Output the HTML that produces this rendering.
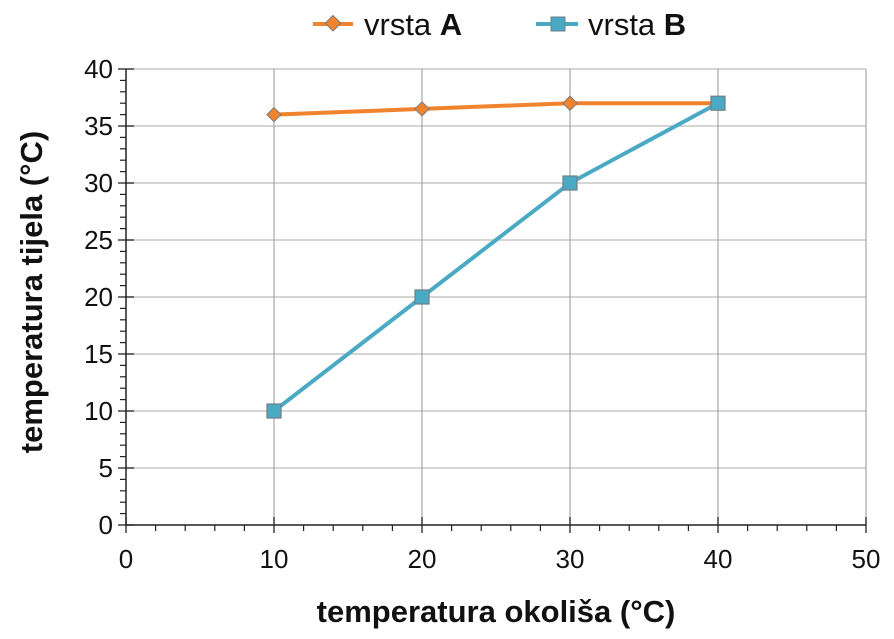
<!DOCTYPE html>
<html><head><meta charset="utf-8"><style>
body{margin:0;background:#fff;}
svg{display:block;font-family:"Liberation Sans",sans-serif;}
</style></head><body>
<svg id="c" width="894" height="639">
<g id="grid"></g>
<g id="axes"></g>
<g id="series"></g>
<g>
 <g>
  <line x1="313" y1="24" x2="353" y2="24" stroke="#f0832d" stroke-width="4"/>
  <rect x="327" y="18" width="11" height="11" transform="rotate(45 333 24)" fill="#f0832d" stroke="#7a7a7a" stroke-width="1"/>
  <text x="364" y="35" font-size="31" fill="#111">vrsta <tspan font-weight="bold">A</tspan></text>
 </g>
 <g>
  <line x1="536" y1="24" x2="578" y2="24" stroke="#4aaac4" stroke-width="4"/>
  <rect x="551" y="17" width="14" height="14" fill="#4aaac4" stroke="#6f7f86" stroke-width="1"/>
  <text x="588" y="35" font-size="31" fill="#111">vrsta <tspan font-weight="bold">B</tspan></text>
 </g>
</g>
<text x="496" y="622" text-anchor="middle" font-size="31" font-weight="bold" fill="#111">temperatura okoliša (°C)</text>
<text transform="translate(42 292) rotate(-90)" text-anchor="middle" font-size="31" font-weight="bold" fill="#111">temperatura tijela (°C)</text>
</svg>
<script>
const xCats=[10,20,30,40];
const seriesA=[36,36.5,37,37];
const seriesB=[10,20,30,37];
const xTicks=[0,10,20,30,40,50];
const yTicks=[0,5,10,15,20,25,30,35,40];
const NS="http://www.w3.org/2000/svg";
const X0=126,X1=866,Y0=525,Y1=69;
const xs=v=>X0+(v-0)/50*(X1-X0);
const ys=v=>Y0-(v-0)/40*(Y0-Y1);
function mk(tag,attrs,parent){const e=document.createElementNS(NS,tag);for(const k in attrs)e.setAttribute(k,attrs[k]);document.getElementById(parent).appendChild(e);return e;}
yTicks.forEach(v=>{if(v>0){const l=mk('line',{x1:X0,x2:X1,y1:ys(v),y2:ys(v),stroke:'#bcbcbc','stroke-width':1.2},'grid');

}
const t=mk('text',{x:X0-13,y:ys(v)+9,'text-anchor':'end','font-size':26,fill:'#111'},'axes');t.textContent=v;


mk('line',{x1:X0-8,x2:X0+8,y1:ys(v),y2:ys(v),stroke:'#222','stroke-width':1.3},'axes');});
for(let v=0;v<=40;v++){if(v%5)mk('line',{x1:X0-6,x2:X0,y1:ys(v),y2:ys(v),stroke:'#222','stroke-width':1.2},'axes');}
xTicks.forEach(v=>{if(v>0){const l=mk('line',{x1:xs(v),x2:xs(v),y1:Y0,y2:Y1,stroke:'#a8a8a8','stroke-width':1.2},'grid');

}
const t=mk('text',{x:xs(v),y:Y0+43,'text-anchor':'middle','font-size':26,fill:'#111'},'axes');t.textContent=v;


mk('line',{x1:xs(v),x2:xs(v),y1:Y0-8,y2:Y0+8,stroke:'#222','stroke-width':1.3},'axes');});
for(let v=0;v<=50;v+=2){if(v%10)mk('line',{x1:xs(v),x2:xs(v),y1:Y0,y2:Y0+6,stroke:'#222','stroke-width':1.2},'axes');}
mk('line',{x1:X0,x2:X0,y1:Y1,y2:Y0,stroke:'#222','stroke-width':1.5},'axes');
mk('line',{x1:X0,x2:X1,y1:Y0,y2:Y0,stroke:'#222','stroke-width':1.5},'axes');
const la=mk('polyline',{points:xCats.map((c,i)=>xs(c)+','+ys(seriesA[i])).join(' '),fill:'none',stroke:'#f0832d','stroke-width':4},'series');


const lb=mk('polyline',{points:xCats.map((c,i)=>xs(c)+','+ys(seriesB[i])).join(' '),fill:'none',stroke:'#4aaac4','stroke-width':4},'series');


xCats.forEach((c,i)=>{const x=xs(c),y=ys(seriesA[i]);
const m=mk('rect',{x:x-5,y:y-5,width:10,height:10,transform:`rotate(45 ${x} ${y})`,fill:'#f0832d',stroke:'#7a7a7a','stroke-width':1},'series');

});
xCats.forEach((c,i)=>{const x=xs(c),y=ys(seriesB[i]);
const m=mk('rect',{x:x-7,y:y-7,width:14,height:14,fill:'#4aaac4',stroke:'#6f7f86','stroke-width':1.2},'series');

});
</script>
</body></html>
